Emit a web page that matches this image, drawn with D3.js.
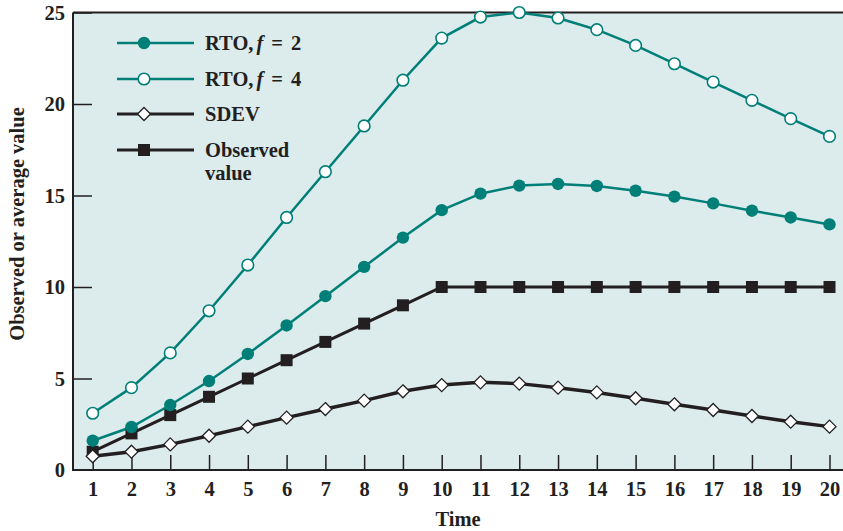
<!DOCTYPE html>
<html><head><meta charset="utf-8">
<script src="https://cdn.jsdelivr.net/npm/d3@7"></script>
<style>body{margin:0;background:#fff}svg{display:block}</style>
</head><body>
<script>
const times = d3.range(1, 21);
const rto2 = [1.6,2.35,3.55,4.86,6.34,7.9,9.5,11.1,12.7,14.2,15.1,15.54,15.63,15.52,15.26,14.94,14.57,14.17,13.8,13.42];
const rto4 = [3.1,4.5,6.4,8.7,11.2,13.8,16.3,18.8,21.3,23.6,24.75,25.0,24.7,24.06,23.2,22.2,21.2,20.2,19.2,18.23];
const sdev = [0.75,1.0,1.4,1.87,2.37,2.86,3.33,3.79,4.3,4.64,4.79,4.72,4.5,4.24,3.92,3.59,3.28,2.95,2.64,2.37];
const observed = [1,2,3,4,5,6,7,8,9,10,10,10,10,10,10,10,10,10,10,10];
const yTicks = [0,5,10,15,20,25];
const legendLabels = ["RTO, f = 2","RTO, f = 4","SDEV","Observed value"];

const W=843,H=531;
const L=73,R=843,T=12.5,B=470;
const teal="#007f78", dark="#231f20";
const font="'Liberation Serif','Times New Roman',serif";
const fs=20.5;

const svg=d3.select("body").append("svg").attr("width",W).attr("height",H);
const x=d3.scaleLinear().domain([1,20]).range([92.7,829.5]);
const y=d3.scaleLinear().domain([0,25]).range([B,T]);

svg.append("rect").attr("x",L).attr("y",T).attr("width",R-L).attr("height",B-T).attr("fill","#dcebeb");

const gx=svg.append("g").attr("transform",`translate(0,${B})`)
  .call(d3.axisBottom(x).tickValues(times).tickFormat(d3.format("d")).tickSizeInner(-15).tickSizeOuter(0).tickPadding(11));
gx.select(".domain").remove();
gx.selectAll("line").attr("stroke",dark).attr("stroke-width",1.5);
gx.selectAll("text").attr("font-family",font).attr("font-weight","bold").attr("font-size",fs).attr("fill",dark);

const gy=svg.append("g").attr("transform",`translate(${L},0)`)
  .call(d3.axisLeft(y).tickValues(yTicks).tickSizeInner(-19).tickSizeOuter(0).tickPadding(8));
gy.select(".domain").remove();
gy.selectAll("line").attr("stroke",dark).attr("stroke-width",1.5);
gy.selectAll("text").attr("font-family",font).attr("font-weight","bold").attr("font-size",fs).attr("fill",dark);
gy.selectAll(".tick").filter(d=>d===0).select("line").remove();

svg.append("line").attr("x1",L).attr("x2",R).attr("y1",T).attr("y2",T).attr("stroke",dark).attr("stroke-width",2);
svg.append("line").attr("x1",L).attr("x2",L).attr("y1",T).attr("y2",B+1).attr("stroke",dark).attr("stroke-width",2);
svg.append("line").attr("x1",L-1).attr("x2",R).attr("y1",B).attr("y2",B).attr("stroke",dark).attr("stroke-width",2);

const line=d3.line().x((d,i)=>x(times[i])).y(d=>y(d));

const series=[
  {vals:observed,color:dark,w:3,marker:"square"},
  {vals:sdev,color:dark,w:3.5,marker:"diamond"},
  {vals:rto2,color:teal,w:2.5,marker:"filled"},
  {vals:rto4,color:teal,w:2.5,marker:"open"},
];
function drawMarker(g,type,cx,cy){
  if(type==="filled") g.append("circle").attr("cx",cx).attr("cy",cy).attr("r",6.2).attr("fill",teal);
  else if(type==="open") g.append("circle").attr("cx",cx).attr("cy",cy).attr("r",5.8).attr("fill","#fff").attr("stroke",teal).attr("stroke-width",1.6);
  else if(type==="square") g.append("rect").attr("x",cx-6).attr("y",cy-6).attr("width",12).attr("height",12).attr("fill",dark);
  else if(type==="diamond") g.append("path").attr("d",`M${cx},${cy-6.5}L${cx+6.5},${cy}L${cx},${cy+6.5}L${cx-6.5},${cy}Z`).attr("fill","#fff").attr("stroke",dark).attr("stroke-width",1.3);
}
series.forEach(s=>{
  svg.append("path").attr("d",line(s.vals)).attr("fill","none").attr("stroke",s.color).attr("stroke-width",s.w);
});
series.forEach(s=>{
  const g=svg.append("g");
  s.vals.forEach((v,i)=>drawMarker(g,s.marker,x(times[i]),y(v)));
});

const leg=[
  {marker:"filled",color:teal,y:43,w:2.5},
  {marker:"open",color:teal,y:79,w:2.5},
  {marker:"diamond",color:dark,y:114,w:3},
  {marker:"square",color:dark,y:150,w:3},
];
leg.forEach((l,i)=>{
  const g=svg.append("g");
  g.append("line").attr("x1",117).attr("x2",194).attr("y1",l.y).attr("y2",l.y).attr("stroke",l.color).attr("stroke-width",l.w);
  drawMarker(g,l.marker,144,l.y);
  const t=g.append("text").attr("x",205).attr("y",l.y+7).attr("font-family",font).attr("font-weight","bold").attr("font-size",fs).attr("fill",dark);
  const lab=legendLabels[i];
  if(lab.includes(" f ")){
    const parts=lab.split(" f = ");
    t.append("tspan").text(parts[0]);
    t.append("tspan").attr("font-style","italic").attr("dx",3).text("f");
    t.append("tspan").attr("dx",8).text("=");
    t.append("tspan").attr("dx",8).text(parts[1]);
  } else if(lab==="Observed value"){
    t.append("tspan").attr("x",205).text("Observed");
    t.append("tspan").attr("x",205).attr("dy",23).text("value");
  } else t.text(lab);
});

svg.append("text").attr("x",458).attr("y",526).attr("text-anchor","middle").attr("font-family",font).attr("font-weight","bold").attr("font-size",fs).attr("fill",dark).text("Time");
svg.append("text").attr("transform","translate(24,224) rotate(-90)").attr("text-anchor","middle").attr("font-family",font).attr("font-weight","bold").attr("font-size",fs).attr("fill",dark).text("Observed or average value");
</script>
</body></html>
